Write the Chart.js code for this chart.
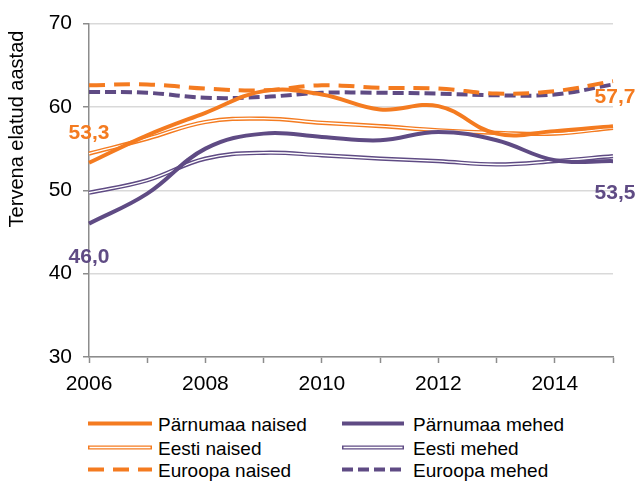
<!DOCTYPE html>
<html>
<head>
<meta charset="utf-8">
<script src="https://cdn.jsdelivr.net/npm/chart.js@4/dist/chart.umd.min.js"></script>
<style>
  html, body { margin:0; padding:0; background:#fff; }
  #wrap { position:relative; width:639px; height:481px; font-family:"Liberation Sans", Arial, sans-serif; }
  #box { position:absolute; left:0; top:0; width:639px; height:400px; }
  .leg { position:absolute; font-size:19px; color:#000; line-height:22px; white-space:nowrap; }
  .leg svg { position:absolute; left:0; top:3px; }
  .leg span { position:absolute; top:-4px; }
</style>
</head>
<body>
<div id="wrap">
  <div id="box"><canvas id="c" width="639" height="400"></canvas></div>
  <div id="legend"></div>
</div>
<script>
const years = ['2006','2007','2008','2009','2010','2011','2012','2013','2014','2015'];
const parnumaaNaised = [53.3, 56.6, 59.3, 61.9, 61.5, 59.7, 60.1, 56.8, 57.1, 57.7];
const parnumaaMehed  = [46.0, 49.6, 55.0, 56.8, 56.4, 56.0, 57.0, 56.0, 53.6, 53.5];
const eestiNaised    = [54.4, 56.2, 58.2, 58.6, 58.1, 57.7, 57.2, 56.9, 56.8, 57.5];
const eestiMehed     = [49.7, 51.2, 53.8, 54.5, 54.2, 53.8, 53.5, 53.1, 53.5, 54.1];
const euroopaNaised  = [62.6, 62.7, 62.2, 62.0, 62.6, 62.3, 62.2, 61.6, 61.9, 63.1];
const euroopaMehed   = [61.8, 61.7, 61.1, 61.2, 61.7, 61.7, 61.6, 61.4, 61.5, 62.7];
const yTicks = [30, 40, 50, 60, 70];
const seriesNames = ['Pärnumaa naised','Pärnumaa mehed','Eesti naised','Eesti mehed','Euroopa naised','Euroopa mehed'];
const yTitle = 'Tervena elatud aastad';

const ORANGE = '#F47B20';
const PURPLE = '#5F4B84';
const FONT = '"Liberation Sans", Arial, sans-serif';

function ds(label, data, color, width, dash) {
  return { label, data, borderColor: color, borderWidth: width, borderDash: dash || [],
           pointRadius: 0, tension: 0.4, fill: false, borderCapStyle: 'butt' };
}

const datasets = [
  ds(seriesNames[0], parnumaaNaised, ORANGE, 4),
  ds(seriesNames[1], parnumaaMehed, PURPLE, 4),
  ds(seriesNames[2] + ' inner', eestiNaised, '#ffffff', 1.4),
  ds(seriesNames[2], eestiNaised, ORANGE, 4.2),
  ds(seriesNames[3] + ' inner', eestiMehed, '#ffffff', 1.4),
  ds(seriesNames[3], eestiMehed, PURPLE, 4.2),
  ds(seriesNames[4], euroopaNaised, ORANGE, 4, [16, 9]),
  ds(seriesNames[5], euroopaMehed, PURPLE, 4, [11, 5]),
];

const endLabels = {
  id: 'endLabels',
  afterDatasetsDraw(chart) {
    const ctx = chart.ctx;
    ctx.save();
    ctx.font = 'bold 21px ' + FONT;
    ctx.textAlign = 'center';
    ctx.textBaseline = 'middle';
    const items = [
      { ds: 0, idx: 0, dy: -30, color: ORANGE, data: parnumaaNaised },
      { ds: 1, idx: 0, dy: 34, color: PURPLE, data: parnumaaMehed },
      { ds: 0, idx: 9, dy: -29, dx: 2, color: ORANGE, data: parnumaaNaised },
      { ds: 1, idx: 9, dy: 32, dx: 2, color: PURPLE, data: parnumaaMehed },
    ];
    items.forEach(it => {
      const p = chart.getDatasetMeta(it.ds).data[it.idx];
      ctx.fillStyle = it.color;
      const txt = it.data[it.idx].toFixed(1).replace('.', ',');
      ctx.fillText(txt, p.x + (it.dx || 0), p.y + it.dy);
    });
    // y-axis title
    ctx.font = '20px ' + FONT;
    ctx.fillStyle = '#000';
    ctx.translate(17, 129);
    ctx.rotate(-Math.PI / 2);
    ctx.fillText(yTitle, 0, 0);
    ctx.restore();
  }
};

new Chart(document.getElementById('c'), {
  type: 'line',
  data: { labels: years, datasets },
  options: {
    responsive: false,
    animation: false,
    events: [],
    layout: { padding: { left: 0, right: 26, top: 9, bottom: 0 } },
    plugins: { legend: { display: false }, tooltip: { enabled: false } },
    scales: {
      x: {
        offset: false,
        afterFit(scale) { scale.height = 43; },
        grid: { drawOnChartArea: false, drawTicks: true, tickLength: 6, tickColor: '#8c8c8c', tickWidth: 1.5 },
        border: { color: '#8c8c8c', width: 1.5 },
        ticks: {
          autoSkip: false, maxRotation: 0, padding: 9, color: '#000',
          font: { family: FONT, size: 21 },
          callback(v, i) { const y = +years[i]; return y % 2 === 0 ? years[i] : ''; }
        }
      },
      y: {
        min: yTicks[0], max: yTicks[yTicks.length - 1],
        afterFit(scale) { scale.width = 89; },
        afterBuildTicks(scale) { scale.ticks = yTicks.map(v => ({ value: v })); },
        grid: { color: '#d9d9d9', lineWidth: 1.5, tickLength: 6, tickColor: '#8c8c8c', tickWidth: 1.5 },
        border: { color: '#8c8c8c', width: 1.5 },
        ticks: { color: '#000', padding: 11, font: { family: FONT, size: 21 } },
        title: { display: false }
      }
    }
  },
  plugins: [endLabels]
});

// legend (HTML)
const legendDefs = [
  { name: seriesNames[0], color: ORANGE, type: 'solid', col: 0, row: 0 },
  { name: seriesNames[1], color: PURPLE, type: 'solid', col: 1, row: 0 },
  { name: seriesNames[2], color: ORANGE, type: 'double', col: 0, row: 1 },
  { name: seriesNames[3], color: PURPLE, type: 'double', col: 1, row: 1 },
  { name: seriesNames[4], color: ORANGE, type: 'dash', dash: '16 9', col: 0, row: 2 },
  { name: seriesNames[5], color: PURPLE, type: 'dash', dash: '11 5', col: 1, row: 2 },
];
const colX = [88, 342], sampleW = [64, 62], textX = [70, 71], rowY = [423, 446.5, 469];
const leg = document.getElementById('legend');
legendDefs.forEach(d => {
  const el = document.createElement('div');
  el.className = 'leg';
  el.style.left = colX[d.col] + 'px';
  el.style.top = (rowY[d.row] - 5) + 'px';
  const w = sampleW[d.col];
  let svg = `<svg width="${w}" height="5" viewBox="0 0 ${w} 5">`;
  if (d.type === 'solid') svg += `<line x1="0" y1="2.5" x2="${w}" y2="2.5" stroke="${d.color}" stroke-width="4"/>`;
  if (d.type === 'double') svg += `<line x1="0" y1="2.5" x2="${w}" y2="2.5" stroke="${d.color}" stroke-width="4.2"/><line x1="1.5" y1="2.5" x2="${w-1.5}" y2="2.5" stroke="#fff" stroke-width="1.4"/>`;
  if (d.type === 'dash') svg += `<line x1="0" y1="2.5" x2="${w}" y2="2.5" stroke="${d.color}" stroke-width="4" stroke-dasharray="${d.dash}"/>`;
  svg += '</svg>';
  el.innerHTML = svg + `<span style="left:${textX[d.col]}px">${d.name}</span>`;
  leg.appendChild(el);
});
</script>
</body>
</html>
